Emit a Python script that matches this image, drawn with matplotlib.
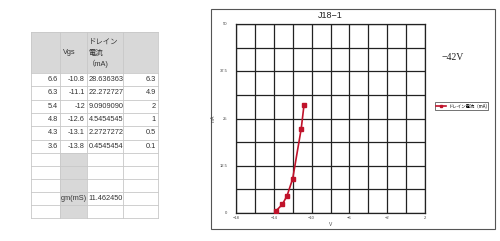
import matplotlib
matplotlib.use("Agg")
import matplotlib.pyplot as plt
from matplotlib.patches import Rectangle

plt.rcParams['font.family'] = ['Liberation Sans', 'Noto Sans CJK JP', 'DejaVu Sans']

# ---- data ----
col_a = ["6.6", "6.3", "5.4", "4.8", "4.3", "3.6"]
vgs = [-10.8, -11.1, -12, -12.6, -13.1, -13.8]
drain_ma = [28.636363, 22.272727, 9.0909090, 4.5454545, 2.2727272, 0.4545454]
drain_labels = ["28.636363", "22.272727", "9.0909090", "4.5454545", "2.2727272", "0.4545454"]
col_d = ["6.3", "4.9", "2", "1", "0.5", "0.1"]
header_vgs = "Vgs"
header_id = ["ドレイン", "電流", "（mA)"]
gm_label = "gm(mS)"
gm_value = "11.462450"
chart_title = "J18\u22121"
series_name = "ドレイン電流（mA)"
note = "\u221242V"
x_ticks = [-18, -14, -10, -6, -2, 2]
y_ticks = [0, 12.5, 25, 37.5, 50]
y_tick_labels = ["0", "12.5", "25", "37.5", "50"]

W, H = 500, 241
fig = plt.figure(figsize=(W / 100, H / 100), dpi=100)
fig.patch.set_facecolor("white")

# background overlay in pixel coordinates
bg = fig.add_axes([0, 0, 1, 1], zorder=0)
bg.set_xlim(0, W)
bg.set_ylim(H, 0)
bg.axis("off")

# ---- table ----
col_x = [31, 60, 87, 122.5, 158]
row_y = [32, 73] + [73 + 13.33 * (i + 1) for i in range(6)] + [166, 179, 192, 205, 218]
gray = "#d8d8d8"
line_c = "#c8c8c8"
bg.add_patch(Rectangle((col_x[0], row_y[0]), col_x[-1] - col_x[0], row_y[1] - row_y[0],
                       facecolor=gray, edgecolor="none"))
bg.add_patch(Rectangle((col_x[1], row_y[7]), col_x[2] - col_x[1], row_y[-1] - row_y[7],
                       facecolor=gray, edgecolor="none"))
for y in row_y:
    bg.plot([col_x[0], col_x[-1]], [y, y], color=line_c, lw=0.6)
for x in col_x:
    bg.plot([x, x], [row_y[0], row_y[-1]], color=line_c, lw=0.6)

fs = 5.3
tc = "#333333"
bg.text(63, 53, header_vgs, fontsize=fs, color=tc, va="center", ha="left")
for k, (t, yy) in enumerate(zip(header_id, [43, 53, 63.5])):
    bg.text(88.5 if k < 2 else 87.5, yy, t, fontsize=fs, color=tc, va="center", ha="left")
for i in range(6):
    yc = (row_y[1 + i] + row_y[2 + i]) / 2
    bg.text(col_x[1] - 2, yc, col_a[i], fontsize=fs, color=tc, va="center", ha="right")
    bg.text(col_x[2] - 2, yc, f"{vgs[i]:g}", fontsize=fs, color=tc, va="center", ha="right")
    bg.text(col_x[2] + 1.5, yc, drain_labels[i], fontsize=fs, color=tc, va="center", ha="left")
    bg.text(col_x[4] - 2, yc, col_d[i], fontsize=fs, color=tc, va="center", ha="right")
yc = (row_y[10] + row_y[11]) / 2
bg.text(col_x[2] - 0.5, yc, gm_label, fontsize=fs, color=tc, va="center", ha="right")
bg.text(col_x[2] + 1.5, yc, gm_value, fontsize=fs, color=tc, va="center", ha="left")

# ---- chart frame ----
bg.add_patch(Rectangle((211, 9), 284, 220, facecolor="white", edgecolor="#555555", lw=0.8))
bg.text(330, 15.5, chart_title, fontsize=6.5, color="#222222", ha="center", va="center")
bg.text(453, 58, note, fontsize=7, color="#222222", ha="center", va="center",
        family=["Liberation Serif", "DejaVu Serif"])

# ---- plot axes ----
ax = fig.add_axes([236 / W, 1 - 213 / H, (425 - 236) / W, (213 - 24) / H], zorder=2)
ax.set_facecolor("none")
ax.set_xlim(-18, 2)
ax.set_ylim(0, 50)
ax.set_xticks(range(-18, 3, 2), minor=False)
ax.set_yticks([i * 6.25 for i in range(9)])
ax.grid(True, color="#222222", lw=0.9)
ax.tick_params(length=0, labelbottom=False, labelleft=False)
for s in ax.spines.values():
    s.set_color("#222222")
    s.set_linewidth(0.9)
ax.plot(vgs, drain_ma, color="#c0132b", lw=1.2, marker="s", markersize=2.2,
        label=series_name, zorder=3)
for xt in x_ticks:
    ax.text(xt, -0.9, f"{xt}".replace("-", "\u2212"), fontsize=3, color="#444444",
            ha="center", va="top", clip_on=False)
for yt, yl in zip(y_ticks, y_tick_labels):
    ax.text(-18.9, yt, yl, fontsize=3, color="#444444", ha="right", va="center", clip_on=False)
ax.text(-8, -3.0, "V", fontsize=3.5, color="#444444", ha="center", va="center", clip_on=False)
ax.text(-20.4, 25, "mA", fontsize=3.5, color="#444444", ha="center", va="center",
        rotation=90, clip_on=False)

leg = ax.legend(loc="center left", bbox_to_anchor=(1.04, 0.566), frameon=True,
                fancybox=False, borderpad=0.25, handlelength=2.2, handletextpad=0.6,
                markerscale=0.7,
                prop={"family": ["Noto Sans CJK JP", "DejaVu Sans"], "size": 3.2})
leg.get_frame().set_edgecolor("#333333")
leg.get_frame().set_linewidth(0.6)

fig.savefig("out.png", dpi=100, facecolor="white")
